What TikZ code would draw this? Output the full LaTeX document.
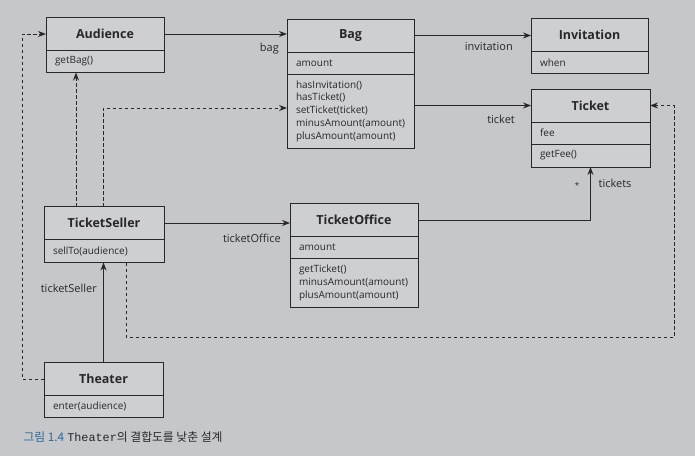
\documentclass[tikz,border=0pt]{standalone}
\usepackage{fontspec}
\setmainfont{Open Sans}
\setmonofont{Liberation Mono}
\newfontfamily\krfont{Noto Sans CJK KR}
\usetikzlibrary{positioning,arrows.meta}
\definecolor{paper}{RGB}{198,199,203}
\definecolor{boxfill}{RGB}{206,207,210}
\definecolor{ink}{RGB}{40,40,44}
\definecolor{capblue}{RGB}{40,105,150}
\tikzset{
  cls/.style={draw=ink, fill=boxfill, line width=0.9pt, inner sep=0pt, outer sep=0pt},
  head/.style={cls, font=\fontsize{12.5}{14}\bfseries, text=ink, minimum height=33pt},
  body/.style={cls, font=\fontsize{10}{12.8}\selectfont, text=ink, align=left,
    inner xsep=9pt, inner ysep=0pt, text width=#1},
  lbl/.style={font=\fontsize{11}{13}\selectfont, text=ink, inner sep=1pt},
  assoc/.style={draw=ink, line width=0.9pt, -{Stealth[length=8pt,width=6pt]}},
  dep/.style={assoc, dash pattern=on 3.5pt off 2.5pt},
}

\begin{document}
\begin{tikzpicture}[x=1pt, y=-1pt]
  \fill[paper] (0,0) rectangle (695,456);

  % classes
  \node[head, minimum width=118pt] (aud) at (105,34) {Audience};
  \node[body=100pt, minimum height=22pt, below=0pt of aud] (audm) {getBag()};

  \node[head, minimum width=127pt] (bag) at (350.5,35.5) {Bag};
  \node[body=109pt, minimum height=22pt, below=0pt of bag] (baga) {amount};
  \node[body=109pt, minimum height=74pt, below=0pt of baga] (bagm)
    {hasInvitation()\\hasTicket()\\setTicket(ticket)\\minusAmount(amount)\\plusAmount(amount)};

  \node[head, minimum width=117pt] (inv) at (589.5,35) {Invitation};
  \node[body=99pt, minimum height=22pt, below=0pt of inv] (inva) {when};

  \node[head, minimum width=119pt] (tkt) at (590.5,105.5) {Ticket};
  \node[body=101pt, minimum height=22pt, below=0pt of tkt] (tkta) {fee};
  \node[body=101pt, minimum height=23pt, below=0pt of tkta] (tktm) {getFee()};

  \node[head, minimum width=120pt] (seller) at (104,223) {TicketSeller};
  \node[body=102pt, minimum height=23pt, below=0pt of seller] (sellerm) {sellTo(audience)};

  \node[head, minimum width=128pt] (office) at (354,220) {TicketOffice};
  \node[body=110pt, minimum height=22pt, below=0pt of office] (officea) {amount};
  \node[body=110pt, minimum height=49pt, below=0pt of officea] (officem)
    {getTicket()\\minusAmount(amount)\\plusAmount(amount)};

  \node[head, minimum width=119pt] (theater) at (103.5,379) {Theater};
  \node[body=101pt, minimum height=22pt, below=0pt of theater] (theaterm) {enter(audience)};

  % associations
  \draw[assoc] (aud.east) -- (aud.east -| bag.west);
  \draw[assoc] (bag.east) -- (bag.east -| inv.west);
  \draw[assoc] (bagm.east |- tkt.west) -- (tkt.west);
  \draw[assoc] (seller.east) -- (seller.east -| office.west);
  \draw[assoc] (office.east) -| (tktm.south);
  \draw[assoc] (theater.north) -- (theater.north |- sellerm.south);

  \node[lbl, anchor=north east] (lbag) at ([xshift=-7pt,yshift=-6pt]bag.west) {bag};
  \node[lbl, anchor=north east] (linv) at ([xshift=-17pt,yshift=-6pt]inv.west) {invitation};
  \node[lbl, anchor=north east] (ltkt) at ([xshift=-15pt,yshift=-8pt]tkt.west) {ticket};
  \node[lbl, anchor=north east] (loff) at ([xshift=-8pt,yshift=-13pt]office.west) {ticketOffice};
  \node[lbl, anchor=north west] (ltkts) at ([xshift=7pt,yshift=-11pt]tktm.south) {tickets};
  \node[lbl, anchor=north east, font=\fontsize{8}{9}\selectfont] (lmany)
    at ([xshift=-10pt,yshift=-14pt]tktm.south) {*};
  \node[lbl, anchor=north east] (lsel) at ([xshift=-6pt,yshift=-20pt]sellerm.south) {ticketSeller};

  % dependencies
  \coordinate (ret) at (22,34);
  \coordinate (loop) at (674,337);
  \draw[dep] ([xshift=-28pt]seller.north) -- ([xshift=-28pt]seller.north |- audm.south);
  \draw[dep] ([xshift=-1pt]seller.north) |- ([yshift=3pt]bagm.west);
  \draw[dep] (theater.west) -| (ret) -- (aud.west);
  \draw[dep] ([xshift=22pt]sellerm.south) |- (loop) |- (tkt.east);

  % caption
  \node[anchor=west, font=\fontsize{11.8}{14}\selectfont, text=ink] (cap) at (20,437)
    {{\krfont\color{capblue}그림 1.4} {\ttfamily Theater}{\krfont 의 결합도를 낮춘 설계}};
\end{tikzpicture}
\end{document}
